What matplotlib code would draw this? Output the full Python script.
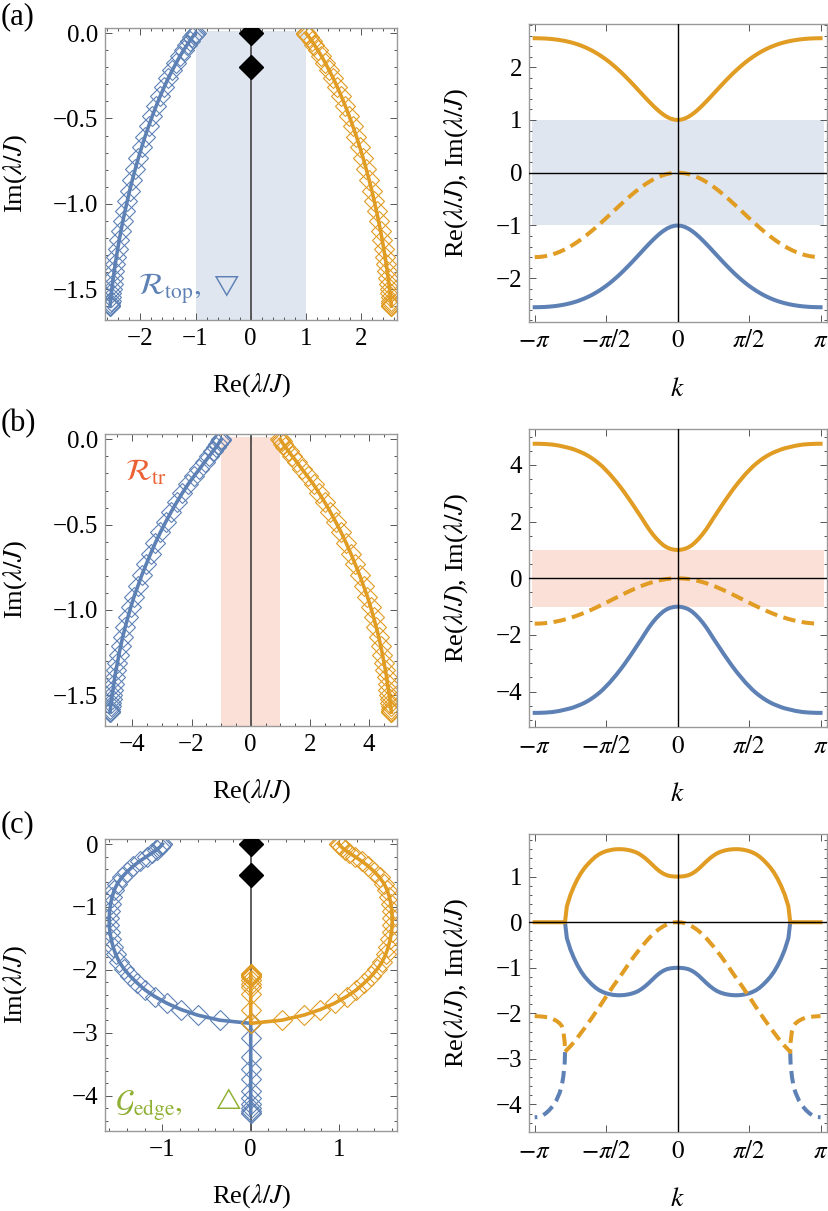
import numpy as np
import matplotlib
matplotlib.use("Agg")
import matplotlib.pyplot as plt
from matplotlib.ticker import MultipleLocator, FuncFormatter

plt.rcParams['font.family'] = 'serif'
plt.rcParams['font.serif'] = ['Liberation Serif', 'DejaVu Serif']
plt.rcParams['mathtext.fontset'] = 'stix'

BLUE = '#5E81B5'
ORANGE = '#E19C24'
GREEN = '#8FB032'
RED = '#EB6235'
SHADE_BLUE = '#DFE6F0'
SHADE_RED = '#FBE0D7'

###############################################################################
# data (k in units of pi, only k >= 0, curves are even in k)

k_grid = np.linspace(0, 1, 41)

# (a) Re of upper band, Im of both bands
re_a = [1.000, 1.007, 1.027, 1.059, 1.103, 1.155, 1.215, 1.280, 1.349, 1.420,
        1.494, 1.567, 1.640, 1.712, 1.782, 1.850, 1.916, 1.978, 2.037, 2.093,
        2.145, 2.193, 2.238, 2.279, 2.317, 2.351, 2.382, 2.409, 2.434, 2.455,
        2.474, 2.490, 2.504, 2.515, 2.525, 2.533, 2.539, 2.544, 2.547, 2.549,
        2.550]
im_ab = [0.000, -0.003, -0.011, -0.025, -0.045, -0.070, -0.100, -0.134, -0.174, -0.217,
         -0.264, -0.315, -0.369, -0.426, -0.484, -0.545, -0.607, -0.670, -0.733, -0.797,
         -0.860, -0.922, -0.984, -1.044, -1.102, -1.157, -1.211, -1.262, -1.310, -1.354,
         -1.396, -1.434, -1.468, -1.499, -1.525, -1.548, -1.567, -1.581, -1.592, -1.598,
         -1.600]

# (b) Re of upper band (Im is the same as in (a))
re_b = [1.00, 1.01, 1.04, 1.09, 1.17, 1.28, 1.41, 1.56, 1.73, 1.92,
        2.12, 2.31, 2.50, 2.69, 2.87, 3.05, 3.22, 3.38, 3.53, 3.68,
        3.81, 3.94, 4.05, 4.15, 4.24, 4.32, 4.39, 4.45, 4.50, 4.55,
        4.59, 4.62, 4.65, 4.68, 4.70, 4.72, 4.73, 4.74, 4.745, 4.75,
        4.75]

# (c) below the exceptional point k_c ~ 0.788 pi: lambda = +-re_c - i gam_c
k_arc = [0.000, 0.025, 0.050, 0.075, 0.100, 0.125, 0.150, 0.175, 0.200, 0.225,
         0.250, 0.275, 0.300, 0.325, 0.350, 0.375, 0.400, 0.425, 0.450, 0.475,
         0.500, 0.525, 0.550, 0.575, 0.600, 0.625, 0.650, 0.675, 0.700, 0.725,
         0.750, 0.775, 0.788]
re_c = [1.000, 1.003, 1.012, 1.030, 1.065, 1.115, 1.180, 1.255, 1.330, 1.400,
        1.460, 1.510, 1.545, 1.570, 1.587, 1.598, 1.603, 1.602, 1.595, 1.580,
        1.560, 1.530, 1.490, 1.435, 1.365, 1.285, 1.195, 1.085, 0.950, 0.790,
        0.600, 0.350, 0.000]
gam_c = [0.000, 0.005, 0.021, 0.050, 0.090, 0.140, 0.200, 0.270, 0.350, 0.440,
         0.530, 0.630, 0.730, 0.840, 0.950, 1.065, 1.180, 1.290, 1.400, 1.515,
         1.630, 1.750, 1.870, 1.985, 2.100, 2.210, 2.320, 2.425, 2.530, 2.630,
         2.720, 2.800, 2.850]
# (c) above k_c: purely imaginary pair
k_tail = [0.788, 0.790, 0.800, 0.810, 0.825, 0.850, 0.875, 0.900, 0.925, 0.950,
          0.975, 1.000]
im_c_up = [-2.85, -2.64, -2.39, -2.28, -2.22, -2.16, -2.12, -2.09, -2.08, -2.07,
           -2.065, -2.06]
im_c_dn = [-2.85, -3.08, -3.39, -3.58, -3.74, -3.92, -4.04, -4.13, -4.20, -4.25,
           -4.275, -4.28]

# isolated (edge) states on the imaginary axis
dots_a = [0.0, -0.2]
dots_c = [0.0, -0.5]

###############################################################################

TICK_FS = 18
LAB_FS = 19
MS = 10.5
RE_LAB = r'Re($\lambda/J$)'
IM_LAB = r'Im($\lambda/J$)'


def mirror(k, v):
    k = np.asarray(k, float)
    v = np.asarray(v, float)
    return np.pi * np.concatenate([-k[::-1], k[1:]]), np.concatenate([v[::-1], v[1:]])


def minus(v, fmt):
    if abs(v) < 1e-9:
        v = 0.0
    return (fmt % v).replace('-', '\u2212')


def frame(ax, xlim, ylim, xmaj, xmin, ymaj, ymin, yfmt='%d', xfmt='%d'):
    ax.set_xlim(xlim)
    ax.set_ylim(ylim)
    if xmaj is not None:
        ax.xaxis.set_major_locator(MultipleLocator(xmaj))
        ax.xaxis.set_minor_locator(MultipleLocator(xmin))
        ax.xaxis.set_major_formatter(FuncFormatter(lambda v, p: minus(v, xfmt)))
    ax.yaxis.set_major_locator(MultipleLocator(ymaj))
    ax.yaxis.set_minor_locator(MultipleLocator(ymin))
    ax.yaxis.set_major_formatter(FuncFormatter(lambda v, p: minus(v, yfmt)))
    ax.tick_params(which='both', direction='in', top=True, right=True,
                   color='#555555', width=0.7, labelsize=TICK_FS)
    ax.tick_params(which='major', length=5)
    ax.tick_params(which='minor', length=2.5)
    ax.tick_params(axis='x', pad=6)
    ax.tick_params(axis='y', pad=5)
    for s in ax.spines.values():
        s.set_color('#999999')
        s.set_linewidth(1.0)


def labels_left(ax):
    ax.set_xlabel(RE_LAB, fontsize=LAB_FS)
    ax.set_ylabel(IM_LAB, fontsize=LAB_FS)
    ax.xaxis.set_label_coords(0.5, -0.175)
    ax.yaxis.set_label_coords(-0.262, 0.5)


def spectrum(ax, re, im, shade, dots, ylim):
    ax.fill_between([-1, 1], ylim[0] - 1, 0.015, color=shade, lw=0, zorder=0)
    ax.axvline(0, color='#333333', lw=1.1, zorder=1.5)
    for sgn, col in ((-1, BLUE), (1, ORANGE)):
        ax.plot(sgn * np.asarray(re), im, color=col, lw=2.6, marker='D', ms=MS,
                mfc='none', mec=col, mew=0.8, zorder=2)
    if dots:
        ax.plot(np.zeros(len(dots)), dots, 'D', color='k', ms=12, zorder=4)
    labels_left(ax)


def kaxis(ax, shade):
    if shade:
        ax.fill_between([-1.017 * np.pi, 1.025 * np.pi], -1, 1, color=shade, lw=0, zorder=0)
    ax.axhline(0, color='k', lw=1.0, zorder=3)
    ax.axvline(0, color='k', lw=1.0, zorder=3)
    ax.set_xticks([-np.pi, -np.pi / 2, 0, np.pi / 2, np.pi])
    ax.set_xticklabels([r'$-\pi$', r'$-\pi/2$', r'$0$', r'$\pi/2$', r'$\pi$'])
    ax.set_xlabel(r'$k$', fontsize=LAB_FS + 1)
    ax.set_ylabel(RE_LAB + ', ' + IM_LAB, fontsize=LAB_FS)
    ax.xaxis.set_label_coords(0.5, -0.185)
    ax.yaxis.set_label_coords(-0.198, 0.5)


LW = 2.9
DASH = (3.1, 1.6)
KLIM = (-1.04 * np.pi, 1.043 * np.pi)

fig = plt.figure(figsize=(8.29, 12.11), dpi=100)

rows = [(0.7358, 0.7341), (0.4007, 0.3994), (0.0661, 0.0650)]
axL = [fig.add_axes([0.1267, b, 0.3522, 0.2411]) for b, _ in rows]
axR = [fig.add_axes([0.6381, b, 0.3591, 0.2461]) for _, b in rows]

# ---------------- (a)
ax = axL[0]
spectrum(ax, re_a, im_ab, SHADE_BLUE, dots_a, (-1.68, 0.03))
frame(ax, (-2.64, 2.65), (-1.68, 0.03), 1, 0.2, 0.5, 0.1, '%.1f')
ax.text(-2.05, -1.53, r'$\mathcal{R}_{\mathrm{top}},$', color=BLUE,
        fontsize=22, va='baseline')
ax.text(-0.69, -1.53, r'$\bigtriangledown$', color=BLUE, fontsize=16, va='baseline')

ax = axR[0]
kaxis(ax, SHADE_BLUE)
k, v = mirror(k_grid, re_a)
ax.plot(k, -v, color=BLUE, lw=LW, zorder=2)
ax.plot(k, v, color=ORANGE, lw=LW, zorder=2)
k, v = mirror(k_grid, im_ab)
ax.plot(k, v, color=ORANGE, lw=LW, dashes=DASH, dash_capstyle='butt', zorder=2)
frame(ax, KLIM, (-2.83, 2.82), None, None, 1, 0.2)

# ---------------- (b)
ax = axL[1]
spectrum(ax, re_b, im_ab, SHADE_RED, None, (-1.68, 0.033))
frame(ax, (-4.92, 4.94), (-1.68, 0.033), 2, 0.5, 0.5, 0.1, '%.1f')
ax.text(-4.25, -0.24, r'$\mathcal{R}_{\mathrm{tr}}$', color=RED, fontsize=22,
        va='baseline')

ax = axR[1]
kaxis(ax, SHADE_RED)
k, v = mirror(k_grid, re_b)
ax.plot(k, -v, color=BLUE, lw=LW, zorder=2)
ax.plot(k, v, color=ORANGE, lw=LW, zorder=2)
k, v = mirror(k_grid, im_ab)
ax.plot(k, v, color=ORANGE, lw=LW, dashes=DASH, dash_capstyle='butt', zorder=2)
frame(ax, KLIM, (-5.26, 5.26), None, None, 2, 0.5)

# ---------------- (c)
ax = axL[2]
ax.axvline(0, color='#333333', lw=1.1, zorder=1.5)
n_t = len(k_tail)
for sgn, col, tail in ((-1, BLUE, im_c_dn), (1, ORANGE, im_c_up)):
    x = np.concatenate([sgn * np.asarray(re_c), np.zeros(n_t)])
    y = np.concatenate([-np.asarray(gam_c), tail])
    ax.plot(x, y, color=col, lw=2.6, marker='D', ms=MS, mfc='none', mec=col,
            mew=0.8, zorder=2)
ax.plot(np.zeros(len(dots_c)), dots_c, 'D', color='k', ms=12, zorder=4)
labels_left(ax)
frame(ax, (-1.65, 1.657), (-4.56, 0.08), 1, 0.2, 1, 0.2)
ax.text(-1.54, -4.25, r'$\mathcal{G}_{\mathrm{edge}},$', color=GREEN,
        fontsize=22, va='baseline')
ax.text(-0.41, -4.17, r'$\bigtriangleup$', color=GREEN, fontsize=16, va='baseline')

ax = axR[2]
kaxis(ax, None)
k_all = np.concatenate([k_arc, k_tail[1:]])
re_all = np.concatenate([re_c, np.zeros(n_t - 1)])
k, v = mirror(k_arc, re_c)
ax.plot(k, -v, color=BLUE, lw=LW, zorder=2)
k, v = mirror(k_all, re_all)
ax.plot(k, v, color=ORANGE, lw=LW, zorder=2)
for sgn in (-1, 1):
    ax.plot(sgn * np.pi * np.asarray(k_tail), im_c_dn, color=BLUE, lw=LW,
            dashes=DASH, dash_capstyle='butt', zorder=2)
k, v = mirror(k_all, np.concatenate([-np.asarray(gam_c), im_c_up[1:]]))
ax.plot(k, v, color=ORANGE, lw=LW, dashes=DASH, dash_capstyle='butt', zorder=2)
frame(ax, KLIM, (-4.61, 1.93), None, None, 1, 0.2)

for lab, y in (('(a)', 2), ('(b)', 409), ('(c)', 810)):
    fig.text(1 / 829, 1 - y / 1211, lab, fontsize=22, va='top', ha='left')

fig.savefig('out.png', dpi=100)
